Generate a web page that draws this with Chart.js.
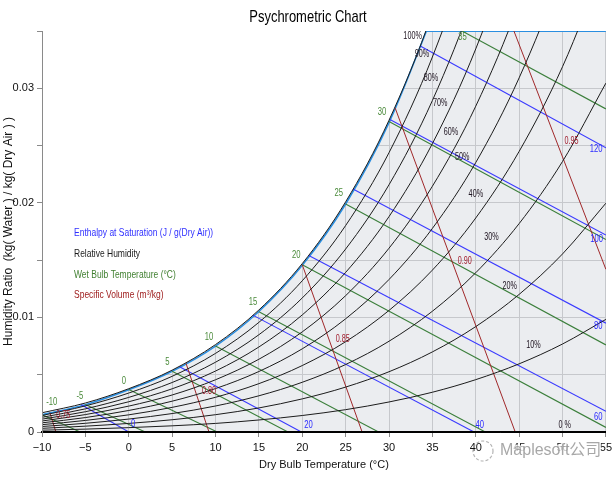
<!DOCTYPE html>
<html lang="en">
<head>
    <meta charset="UTF-8">
    <title>Psychrometric Chart</title>
    <script src="https://cdn.jsdelivr.net/npm/chart.js"></script>
    <style>
        body {
            margin: 0;
            padding: 0;
            background: #ffffff;
        }
    </style>
</head>
<body>
    <canvas id="psyChart" width="616" height="478"></canvas>

    <script>
        // dry bulb temperature grid (°C)
        const tempC = [-10, -5, 0, 5, 10, 15, 20, 25, 30, 35, 40, 45, 50, 55];

        // relative humidity curves, humidity ratio kg/kg at each tempC
        const rh10  = [0.00016, 0.00025, 0.00038, 0.00054, 0.00075, 0.00105, 0.00144, 0.00195, 0.00262, 0.00347, 0.00457, 0.00595, 0.00768, 0.00983];
        const rh20  = [0.00032, 0.00051, 0.00075, 0.00107, 0.00151, 0.00210, 0.00289, 0.00392, 0.00526, 0.00699, 0.00920, 0.01201, 0.01554, 0.01997];
        const rh30  = [0.00048, 0.00076, 0.00113, 0.00161, 0.00227, 0.00316, 0.00434, 0.00589, 0.00792, 0.01054, 0.01390, 0.01819, 0.02361, 0.03045];
        const rh40  = [0.00064, 0.00101, 0.00150, 0.00215, 0.00303, 0.00422, 0.00580, 0.00788, 0.01061, 0.01413, 0.01868, 0.02449, 0.03188, 0.04127];
        const rh50  = [0.00080, 0.00126, 0.00188, 0.00269, 0.00379, 0.00528, 0.00726, 0.00988, 0.01331, 0.01777, 0.02352, 0.03091, 0.04037, 0.05246];
        const rh60  = [0.00096, 0.00152, 0.00226, 0.00323, 0.00456, 0.00635, 0.00874, 0.01190, 0.01604, 0.02145, 0.02844, 0.03747, 0.04908, 0.06403];
        const rh70  = [0.00112, 0.00177, 0.00264, 0.00377, 0.00532, 0.00742, 0.01022, 0.01393, 0.01880, 0.02517, 0.03344, 0.04415, 0.05803, 0.07600];
        const rh80  = [0.00128, 0.00202, 0.00302, 0.00432, 0.00609, 0.00849, 0.01170, 0.01597, 0.02158, 0.02893, 0.03851, 0.05098, 0.06721, 0.08840];
        const rh90  = [0.00144, 0.00228, 0.00340, 0.00486, 0.00686, 0.00957, 0.01320, 0.01802, 0.02438, 0.03273, 0.04366, 0.05795, 0.07665, 0.10125];
        const rh100 = [0.00168, 0.00253, 0.00378, 0.00540, 0.00763, 0.01065, 0.01470, 0.02009, 0.02721, 0.03658, 0.04889, 0.06506, 0.08635, 0.11458];

        // saturation boundary (blue edge of the shaded area)
        const satT = [-10, -5, 0, 5, 10, 15, 20, 25, 30, 35];
        const satW = [0.00150, 0.00238, 0.00368, 0.00530, 0.00750, 0.01052, 0.01455, 0.01990, 0.02700, 0.03630];
        const satTopT = [34.3, 55];
        const satTopW = [0.035, 0.035];

        // enthalpy at saturation lines (J/g dry air)
        const enthalpyLevels = ['0', '20', '40', '60', '80', '100', '120'];
        const enthalpyStartT = [-5.5, 5.85, 14.3, 20.75, 25.85, 30.05, 33.6];
        const enthalpyStartW = [0.0024, 0.0057, 0.0102, 0.0154, 0.0212, 0.0273, 0.0337];
        const enthalpyEndT = [0, 19.9, 39.8, 55, 55, 55, 55];
        const enthalpyEndW = [0, 0, 0, 0.0018, 0.0095, 0.0172, 0.0248];

        // wet bulb temperature lines (°C)
        const wetBulbLevels = ['-10', '-5', '0', '5', '10', '15', '20', '25', '30', '35'];
        const wetBulbStartT = [-10, -5, 0, 5, 10, 15, 20, 25, 30, 35];
        const wetBulbStartW = [0.0015, 0.0024, 0.0037, 0.0053, 0.0075, 0.0105, 0.0146, 0.0199, 0.0271, 0.0364];
        const wetBulbEndT = [-5.6, 1.9, 10.2, 18.35, 28.8, 41.1, 55, 55, 55, 55];
        const wetBulbEndW = [0, 0, 0, 0, 0, 0, 0.0004, 0.0076, 0.0168, 0.0282];

        // specific volume lines (m3/kg)
        const volumeLevels = ['0.75', '0.80', '0.85', '0.90', '0.95'];
        const volumeStartT = [-9.1, 6.6, 20.0, 30.7, 44.4];
        const volumeStartW = [0.0017, 0.0060, 0.0146, 0.0283, 0.0350];
        const volumeEndT = [-8.4, 9.25, 26.9, 44.55, 55];
        const volumeEndW = [0, 0, 0, 0, 0.0142];

        // where the curve labels sit (data units)
        const rhLabels = ['100%', '90%', '80%', '70%', '60%', '50%', '40%', '30%', '20%', '10%', '0 %'];
        const rhLabelT = [32.72, 33.80, 34.83, 35.90, 37.13, 38.43, 40.01, 41.80, 43.92, 46.64, 50.25];
        const rhLabelW = [0.03453, 0.03303, 0.03090, 0.02872, 0.02619, 0.02401, 0.02076, 0.01703, 0.01276, 0.00759, 0.00061];
        const enthalpyLabelT = [0.50, 20.72, 40.47, 54.11, 54.11, 53.93, 53.88];
        const enthalpyLabelW = [0.00067, 0.00061, 0.00061, 0.00133, 0.00924, 0.01689, 0.02474];
        const wetBulbLabelT = [-8.88, -5.63, -0.57, 4.46, 9.25, 14.31, 19.30, 24.20, 29.20, 38.47];
        const wetBulbLabelW = [0.00264, 0.00314, 0.00445, 0.00608, 0.00831, 0.01136, 0.01544, 0.02082, 0.02793, 0.03447];
        const volumeLabelT = [-7.55, 9.25, 24.66, 38.74, 51.05];
        const volumeLabelW = [0.00148, 0.00360, 0.00811, 0.01494, 0.02540];

        const legendItems = [
            ['Enthalpy at Saturation (J / g(Dry Air))', '#3030ff'],
            ['Relative Humidity', '#1a1a1a'],
            ['Wet Bulb Temperature (\u00B0C)', '#3f7f2f'],
            ['Specific Volume (m\u00B3/kg)', '#a02020']
        ];

        const SHADE = '#ebedf0';
        const GRID = '#c6c8cc';
        const SAT_BLUE = '#2a8ee0';
        const H_BLUE = '#3a3aff';
        const WB_GREEN = '#3b7f3b';
        const V_RED = '#a0282a';

        // narrow font if it is there, else squeeze a normal one harder
        const probe = document.createElement('canvas').getContext('2d');
        probe.font = '20px "Liberation Sans Narrow", monospace';
        const wNarrow = probe.measureText('abcdefghij').width;
        probe.font = '20px monospace';
        const hasNarrow = Math.abs(wNarrow - probe.measureText('abcdefghij').width) > 1;
        const FAMILY = hasNarrow ? '"Liberation Sans Narrow", "Arial Narrow", sans-serif' : '"Liberation Sans", Arial, sans-serif';
        const SQ = hasNarrow ? 1 : 0.82;

        function drawText(ctx, str, x, y, size, color, squeeze, align) {
            ctx.save();
            ctx.font = size + 'px ' + FAMILY;
            ctx.fillStyle = color;
            ctx.textAlign = align || 'center';
            ctx.textBaseline = 'middle';
            ctx.translate(x, y);
            ctx.scale(squeeze * SQ, 1);
            ctx.fillText(str, 0, 0);
            ctx.restore();
        }

        function curve(xs, ys, color, width, order) {
            return {
                data: xs.map((t, i) => ({ x: t, y: ys[i] })),
                borderColor: color,
                borderWidth: width,
                pointRadius: 0,
                fill: false,
                order: order,
                cubicInterpolationMode: 'monotone'
            };
        }

        const datasets = [];
        // saturation edge with white above it
        const satSet = curve(satT, satW, SAT_BLUE, 1.6, 100);
        satSet.fill = 'end';
        satSet.backgroundColor = '#ffffff';
        datasets.push(satSet);
        datasets.push(curve(satTopT, satTopW, SAT_BLUE, 2, 99));

        wetBulbLevels.forEach((lv, i) => {
            datasets.push(curve([wetBulbStartT[i], wetBulbEndT[i]], [wetBulbStartW[i], wetBulbEndW[i]], WB_GREEN, 1.1, 50));
        });
        enthalpyLevels.forEach((lv, i) => {
            datasets.push(curve([enthalpyStartT[i], enthalpyEndT[i]], [enthalpyStartW[i], enthalpyEndW[i]], H_BLUE, 1.1, 40));
        });
        volumeLevels.forEach((lv, i) => {
            datasets.push(curve([volumeStartT[i], volumeEndT[i]], [volumeStartW[i], volumeEndW[i]], V_RED, 1, 30));
        });
        [rh10, rh20, rh30, rh40, rh50, rh60, rh70, rh80, rh90].forEach(arr => {
            datasets.push(curve(tempC, arr, '#1c1c1c', 1, 20));
        });
        datasets.push(curve(tempC, rh100, '#1c1c1c', 1, 10));

        const chartDecor = {
            id: 'chartDecor',
            beforeDraw(chart) {
                const { ctx, chartArea: a } = chart;
                ctx.save();
                ctx.fillStyle = SHADE;
                ctx.fillRect(a.left, a.top, a.right - a.left, a.bottom - a.top);
                ctx.restore();
            },
            afterDatasetsDraw(chart) {
                const { ctx, chartArea: a } = chart;
                const xs = chart.scales.x, ys = chart.scales.y;
                const px = t => xs.getPixelForValue(t);
                const py = w => ys.getPixelForValue(w);

                rhLabels.forEach((s, i) => drawText(ctx, s, px(rhLabelT[i]), py(rhLabelW[i]), 11, '#1e1420', 0.8));
                enthalpyLevels.forEach((s, i) => drawText(ctx, s, px(enthalpyLabelT[i]), py(enthalpyLabelW[i]), 11, '#2a2aff', 0.85));
                wetBulbLevels.forEach((s, i) => drawText(ctx, s, px(wetBulbLabelT[i]), py(wetBulbLabelW[i]), 11, '#4a8a3a', 0.85));
                volumeLevels.forEach((s, i) => drawText(ctx, s, px(volumeLabelT[i]), py(volumeLabelW[i]), 11, '#a01c2c', 0.8));

                legendItems.forEach((it, i) => {
                    drawText(ctx, it[0], a.left + 32, a.top + 202 + i * 20.7, 11.5, it[1], 0.9, 'left');
                });
            },
            afterDraw(chart) {
                const { ctx } = chart;
                drawText(ctx, 'Psychrometric Chart', 308, 17, 17, '#000000', 0.93);

                // WeChat watermark
                ctx.save();
                ctx.globalAlpha = 0.75;
                ctx.strokeStyle = '#9a9a9a';
                ctx.setLineDash([3, 2]);
                ctx.lineWidth = 1.2;
                ctx.beginPath();
                ctx.arc(483, 451, 10, 0, Math.PI * 2);
                ctx.stroke();
                ctx.setLineDash([]);
                ctx.font = '16px "Liberation Sans", Arial, "Noto Sans CJK SC", sans-serif';
                ctx.textBaseline = 'middle';
                ctx.lineWidth = 3;
                ctx.strokeStyle = '#ffffff';
                ctx.strokeText('Maplesoft\u516C\u53F8', 500, 451);
                ctx.fillStyle = '#8a8a8a';
                ctx.fillText('Maplesoft\u516C\u53F8', 500, 451);
                ctx.restore();
            }
        };

        new Chart(document.getElementById('psyChart'), {
            type: 'line',
            data: { datasets: datasets },
            plugins: [chartDecor],
            options: {
                responsive: false,
                animation: false,
                layout: { padding: { top: 31, right: 9, left: 0, bottom: 0 } },
                plugins: {
                    legend: { display: false },
                    tooltip: { enabled: false },
                    title: { display: false }
                },
                scales: {
                    x: {
                        type: 'linear',
                        min: -10,
                        max: 55,
                        ticks: {
                            stepSize: 5,
                            autoSkip: false,
                            maxRotation: 0,
                            padding: 4,
                            color: '#111111',
                            font: { family: FAMILY, size: 11 },
                            callback: v => v < 0 ? '\u2212' + Math.abs(v) : String(v)
                        },
                        grid: { color: GRID, tickLength: 5, tickColor: '#8a8a8a' },
                        border: { color: '#000000', width: 2, z: 1 },
                        title: {
                            display: true,
                            text: 'Dry Bulb Temperature (\u00B0C)',
                            color: '#111111',
                            font: { family: FAMILY, size: 11 },
                            padding: { top: 0, bottom: 6 }
                        },
                        afterFit: s => { s.height = 46; }
                    },
                    y: {
                        min: 0,
                        max: 0.035,
                        ticks: {
                            stepSize: 0.005,
                            padding: 3,
                            color: '#111111',
                            font: { family: FAMILY, size: 11 },
                            callback: v => {
                                const k = Math.round(v * 1000);
                                return k % 10 === 0 ? String(k / 1000) : '';
                            }
                        },
                        grid: {
                            color: c => (c.tick && c.tick.value > 0.0349) ? 'rgba(0,0,0,0)' : GRID,
                            tickLength: 5,
                            tickColor: '#8a8a8a'
                        },
                        border: { color: '#8a8a8a', width: 1, z: 1 },
                        title: {
                            display: true,
                            text: 'Humidity Ratio  (kg( Water ) / kg( Dry Air ) )',
                            color: '#111111',
                            font: { family: '"Liberation Sans", Arial, sans-serif', size: 12 },
                            padding: { top: 1, bottom: 0 }
                        },
                        afterFit: s => { s.width = 42; }
                    }
                }
            }
        });
    </script>
</body>
</html>
